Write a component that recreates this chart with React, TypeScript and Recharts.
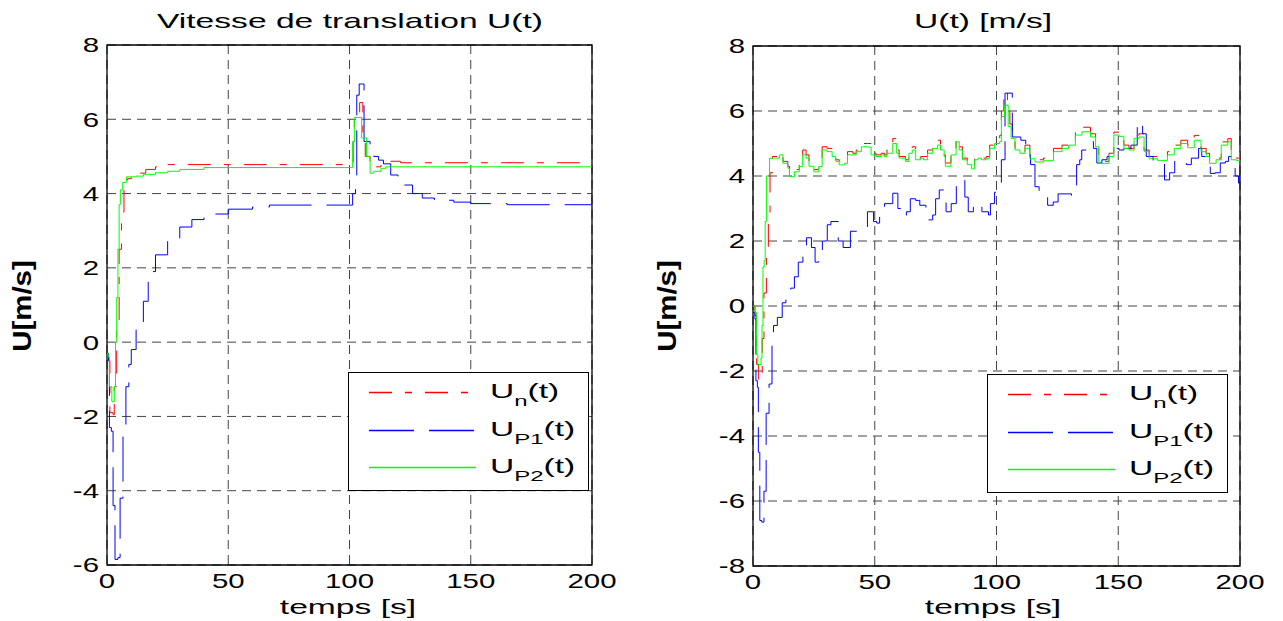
import { LineChart, Line, XAxis, YAxis, CartesianGrid, Legend, ReferenceArea } from 'recharts';

const FONT = '"Liberation Sans", Arial, Helvetica, sans-serif';

const timeTicks = [0, 50, 100, 150, 200];
const leftTicks = [-6, -4, -2, 0, 2, 4, 6, 8];
const rightTicks = [-8, -6, -4, -2, 0, 2, 4, 6, 8];

// Vitesse de translation : U_n(t)
const tLeftN = [0, 0.5, 1.2, 2.5, 3, 4, 5, 6, 7, 8.5, 10, 13, 16, 20, 25, 100.5, 101.5, 102, 103.5, 104.2, 105.5, 106.5, 108.5, 111, 113, 117, 121, 200];
const uLeftN = [-0.3, -0.5, -1.9, -1.95, -1.2, 0.5, 2.5, 3.5, 4.2, 4.4, 4.5, 4.55, 4.65, 4.72, 4.78, 4.78, 5.4, 6.2, 6.2, 6.45, 5.5, 5.0, 4.7, 4.72, 4.8, 4.87, 4.83, 4.83];

// U_P1(t)
const tLeftP1 = [0, 0.6, 1, 1.8, 2.5, 3.3, 4.5, 5.4, 6.6, 7.8, 9, 10, 12, 15, 17, 20, 25, 30, 35, 40, 50, 60, 67, 100.5, 101.3, 102.5, 103, 104, 105.5, 106, 108.5, 110, 112, 114, 117, 120, 126, 130, 135, 143, 150, 165, 200];
const uLeftP1 = [-0.3, -0.5, -2.3, -2.4, -4.4, -5.85, -5.8, -4.2, -2.5, -1.2, -0.6, -0.2, 0.5, 1.1, 1.9, 2.35, 2.75, 3.1, 3.3, 3.45, 3.58, 3.64, 3.69, 3.69, 4.0, 4.35, 6.65, 6.95, 6.95, 5.4, 5.05, 5.0, 4.9, 4.8, 4.5, 4.23, 4.0, 3.88, 3.82, 3.77, 3.73, 3.7, 3.7];

// U_P2(t)
const tLeftP2 = [0, 0.5, 1, 2, 3, 3.5, 4, 4.5, 5, 5.5, 6.5, 8, 12, 15, 20, 25, 30, 40, 100.5, 101.3, 102, 104.5, 105, 107, 108.5, 110, 113, 115, 200];
const uLeftP2 = [-0.3, -0.4, -1.2, -1.6, -1.2, 0, 1.2, 2.5, 3.7, 4.1, 4.3, 4.45, 4.47, 4.52, 4.56, 4.6, 4.65, 4.7, 4.7, 5.4, 6.05, 6.05, 5.5, 5.0, 4.55, 4.6, 4.68, 4.72, 4.72];

// U(t) [m/s] : U_n(t)
const tRightN = [0, 0.8, 1.5, 2.2, 3.3, 3.8, 4.5, 5.5, 6.3, 7, 8, 10.9, 12.3, 14.3, 15, 17, 19, 20.4, 21.8, 23, 25, 27, 28.4, 30.4, 32.5, 34, 35.4, 37.5, 38.8, 41, 42.4, 44.5, 47, 48.5, 50.5, 52.6, 54, 55, 57.4, 59, 60, 62.6, 64, 65.4, 66.8, 68.9, 70, 71.7, 73.8, 75.8, 77, 78.5, 79, 81.3, 83.4, 84.7, 86, 88, 89.7, 91, 92.4, 93.8, 95.8, 97.2, 99.2, 101.3, 102, 103, 104.5, 105.5, 106.5, 107.6, 109.6, 111.7, 113.7, 115.8, 119.3, 123.4, 126.9, 129.6, 132.4, 135.1, 138.6, 140.7, 142, 144, 146.2, 148.2, 150.3, 152.3, 154.4, 156.5, 158.5, 160.6, 162.7, 166.1, 168.9, 170.2, 173, 175.7, 178.5, 181.2, 184, 186.1, 187.5, 190.2, 192.3, 195, 196.4, 198.5, 200];
const uRightN = [0.0, -0.3, -1.8, -2.3, -2.1, -1.0, 0.4, 1.6, 2.6, 4.1, 4.6, 4.7, 4.45, 4.3, 4.05, 4.2, 4.35, 4.8, 4.65, 4.35, 4.2, 4.35, 4.9, 4.85, 4.65, 4.5, 4.4, 4.45, 4.75, 4.7, 4.8, 5.0, 5.0, 4.7, 4.65, 4.7, 4.65, 4.8, 5.15, 4.8, 4.6, 4.5, 4.8, 4.9, 4.55, 4.6, 4.6, 4.8, 4.95, 5.1, 4.9, 4.65, 4.4, 4.75, 5.15, 4.9, 4.55, 4.4, 4.3, 4.55, 4.6, 4.55, 4.6, 4.95, 5.15, 5.25, 6.0, 6.6, 6.3, 5.6, 5.2, 4.85, 4.75, 4.95, 4.6, 4.5, 4.55, 4.85, 4.95, 5.05, 5.4, 5.5, 5.3, 5.0, 4.45, 4.45, 4.7, 5.35, 5.3, 4.95, 4.85, 5.25, 5.3, 4.8, 4.6, 4.55, 4.55, 4.75, 4.95, 5.1, 4.95, 5.25, 4.85, 4.7, 4.45, 4.55, 5.05, 5.15, 4.6, 4.55, 4.85];

// U_P1(t)
const tRightP1 = [0, 0.8, 1.2, 1.8, 2.2, 2.8, 3.6, 4.5, 5.4, 6.6, 7.8, 8.4, 10, 12, 13.5, 15.5, 17, 18.6, 20.5, 22, 24, 25.5, 27, 28.5, 30.5, 32, 35, 37, 40, 44, 47, 49.5, 50.8, 52, 54, 57.4, 59.5, 61, 63, 64.6, 66.8, 68.5, 71, 73.8, 75, 76.5, 78.5, 79.3, 81.4, 83.5, 85.5, 87, 88.4, 90.5, 92.6, 94, 96.7, 97.5, 99.2, 101.3, 102, 103.5, 106, 106.5, 110, 112, 114, 115.8, 117.5, 121, 123.3, 125.3, 128.8, 130.8, 131.5, 132.9, 134.2, 135, 137.7, 139.8, 141.2, 143.3, 145.4, 148.2, 150.3, 152.3, 155.2, 157.8, 160, 161.5, 164.3, 167.7, 169, 171.1, 173.2, 176, 178, 180, 183, 184.3, 187.8, 189.8, 191.9, 194, 195.3, 198, 199.4, 200];
const uRightP1 = [-0.2, -0.4, -2.3, -2.5, -4.5, -6.6, -6.65, -5.7, -3.3, -2.4, -1.1, -0.6, -0.35, 0.1, 0.4, 0.55, 0.9, 1.35, 1.78, 2.1, 1.8, 1.35, 1.72, 2.0, 2.5, 2.6, 2.0, 1.8, 2.3, 2.4, 2.9, 2.6, 2.55, 2.9, 3.15, 3.47, 3.0, 2.75, 2.9, 3.3, 3.25, 3.1, 2.65, 2.8, 3.3, 3.57, 3.4, 2.9, 3.15, 3.88, 3.88, 3.35, 2.9, 3.15, 3.15, 2.9, 2.8, 3.15, 3.5, 3.55, 4.5, 6.55, 6.55, 5.2, 5.1, 4.9, 4.35, 3.67, 3.5, 3.1, 3.2, 3.45, 3.45, 3.4, 3.65, 4.35, 4.5, 4.8, 5.06, 4.85, 4.4, 4.5, 4.6, 4.85, 4.8, 4.85, 4.95, 5.67, 5.3, 4.6, 4.4, 4.4, 3.88, 4.1, 4.48, 4.4, 4.35, 4.55, 4.85, 4.6, 4.08, 4.1, 4.4, 4.45, 4.6, 4.0, 3.78, 4.1];

// U_P2(t)
const tRightP2 = [0, 0.8, 1.5, 2, 3.3, 3.7, 4.1, 4.6, 5, 5.5, 6.3, 6.8, 8.3, 10.9, 12.3, 14.3, 15, 17, 19, 20.4, 21.8, 23, 25, 27, 28.4, 30.4, 32.5, 34, 35.4, 37.5, 38.8, 41, 42.4, 44.5, 47, 48.5, 50.5, 52.6, 54, 55, 57.4, 59, 60, 62.6, 64, 65.4, 66.8, 68.9, 70, 71.7, 73.8, 75.8, 77, 78.5, 79, 81.3, 83.4, 84.7, 86, 88, 89.7, 91, 92.4, 93.8, 95.8, 97.2, 99.2, 101.3, 102, 103.3, 104.8, 106, 107.6, 109.6, 111.7, 113.7, 115.8, 119.3, 123.4, 126.9, 129.6, 132.4, 135.1, 138.6, 140.7, 142, 144, 146.2, 148.2, 150.3, 152.3, 154.4, 156.5, 158.5, 160.6, 162.7, 166.1, 168.9, 170.2, 173, 175.7, 178.5, 181.2, 184, 186.1, 187.5, 190.2, 192.3, 195, 196.4, 198.5, 200];
const uRightP2 = [0.0, -0.2, -1.5, -1.8, -1.6, -0.6, 1.2, 1.4, 2.6, 4.0, 4.03, 4.55, 4.55, 4.65, 4.39, 4.24, 3.98, 4.13, 4.29, 4.65, 4.55, 4.3, 4.13, 4.29, 4.8, 4.75, 4.6, 4.45, 4.34, 4.39, 4.65, 4.65, 4.75, 4.9, 4.89, 4.65, 4.6, 4.65, 4.6, 4.7, 5.0, 4.7, 4.55, 4.45, 4.7, 4.8, 4.5, 4.55, 4.5, 4.7, 4.85, 4.95, 4.8, 4.6, 4.3, 4.65, 5.05, 4.8, 4.5, 4.35, 4.22, 4.5, 4.55, 4.5, 4.53, 4.85, 5.0, 5.06, 5.83, 6.18, 5.52, 5.16, 4.8, 4.7, 4.85, 4.53, 4.43, 4.47, 4.75, 4.85, 4.95, 5.26, 5.36, 5.2, 4.9, 4.39, 4.39, 4.6, 5.26, 5.22, 4.85, 4.8, 5.16, 5.2, 4.75, 4.53, 4.48, 4.48, 4.65, 4.85, 5.0, 4.87, 5.1, 4.75, 4.6, 4.39, 4.5, 4.95, 5.05, 4.5, 4.48, 4.75];

const pts = (t: number[], u: number[]) => t.map((x, i) => ({ t: x, u: u[i] }));

// MATLAB-like line styles: '-.' red, '--' blue, '-' green
const SERIES_ORDER = ['n', 'P1', 'P2'];
const STYLES: Record<string, { color: string; dash?: string }> = {
  n: { color: '#ff0000', dash: '23 13 7 13' },
  P1: { color: '#0000ff', dash: '45 15' },
  P2: { color: '#00ff00' },
};

const Y_AXIS_W = 60;
const X_AXIS_H = 40;

const XTick = ({ x, y, payload }: any) => (
  <text transform={`translate(${x},${y}) scale(1.4,1)`} textAnchor="middle" dominantBaseline="central"
    fontFamily={FONT} fontSize={21} fill="#000">{payload.value}</text>
);

const YTick = ({ x, y, payload }: any) => (
  <text transform={`translate(${x},${y}) scale(1.4,1)`} textAnchor="end" dominantBaseline="central"
    fontFamily={FONT} fontSize={21} fill="#000">{payload.value}</text>
);

function LegendBox({ payload }: any) {
  const entries = [...(payload || [])].sort(
    (a: any, b: any) => SERIES_ORDER.indexOf(a.value) - SERIES_ORDER.indexOf(b.value));
  return (
    <svg width={241} height={119} style={{ display: 'block' }}>
      <rect x={0.5} y={0.5} width={240} height={118} fill="#fff" stroke="#000" />
      {entries.map((entry: any, i: number) => {
        const st = STYLES[entry.value];
        const cy = Math.round(20 + i * 37.5) + 0.5;
        return (
          <g key={entry.value}>
            <line x1={21} x2={128} y1={cy} y2={cy} stroke={st.color} strokeWidth={1.3} strokeDasharray={st.dash} />
            <text transform={`translate(142,${cy + 5}) scale(1.6,1)`} fontFamily={FONT} fontSize={21} fill="#000">
              U<tspan fontSize={15} dy={8}>{entry.value}</tspan><tspan dy={-8}>(t)</tspan>
            </text>
          </g>
        );
      })}
    </svg>
  );
}

interface PanelProps {
  width: number;
  plot: { top: number; right: number; bottom: number; left: number };
  yTicks: number[];
  series: { key: string; data: { t: number; u: number }[] }[];
  legendPos: { left: number; top: number };
}

function Panel({ width, plot, yTicks, series, legendPos }: PanelProps) {
  const yMin = yTicks[0];
  const yMax = yTicks[yTicks.length - 1];
  const margin = { top: plot.top, right: plot.right, bottom: plot.bottom - X_AXIS_H, left: plot.left - Y_AXIS_W };
  return (
    <LineChart width={width} height={621} margin={margin}>
      <CartesianGrid stroke="#444" strokeDasharray="9 6" />
      <XAxis type="number" dataKey="t" domain={[0, 200]} ticks={timeTicks} allowDataOverflow interval={0}
        height={X_AXIS_H} tickSize={0} tickMargin={16} axisLine={false} tickLine={false} tick={<XTick />} />
      <YAxis type="number" dataKey="u" domain={[yMin, yMax]} ticks={yTicks} allowDataOverflow interval={0}
        width={Y_AXIS_W} tickSize={0} tickMargin={8} axisLine={false} tickLine={false} tick={<YTick />} />
      {series.map((s) => (
        <Line key={s.key} name={s.key} data={s.data} dataKey="u" type="stepAfter"
          stroke={STYLES[s.key].color} strokeDasharray={STYLES[s.key].dash} strokeWidth={1}
          dot={false} activeDot={false} isAnimationActive={false} />
      ))}
      <ReferenceArea x1={0} x2={200} y1={yMin} y2={yMax} fill="none" stroke="#000" strokeWidth={1.3} />
      <Legend layout="vertical" align="center" verticalAlign="middle" content={<LegendBox />}
        wrapperStyle={{ left: legendPos.left, top: legendPos.top, width: 241, height: 119 }} />
    </LineChart>
  );
}

const textStyle = (left: number, top: number, extra = ''): React.CSSProperties => ({
  position: 'absolute', left, top, whiteSpace: 'nowrap', fontFamily: FONT, fontSize: 21, color: '#000',
  transform: `translate(-50%,-50%) ${extra}`, lineHeight: 1,
});

export default function App() {
  return (
    <div style={{ position: 'absolute', left: 0, top: 0, width: 1283, height: 621, background: '#fff', overflow: 'hidden' }}>
      <div style={{ position: 'absolute', left: 0, top: 0 }}>
        <Panel width={640} plot={{ top: 45, right: 48, bottom: 56, left: 107 }} yTicks={leftTicks}
          legendPos={{ left: 348, top: 372 }}
          series={[
            { key: 'n', data: pts(tLeftN, uLeftN) },
            { key: 'P1', data: pts(tLeftP1, uLeftP1) },
            { key: 'P2', data: pts(tLeftP2, uLeftP2) },
          ]} />
      </div>
      <div style={{ position: 'absolute', left: 640, top: 0 }}>
        <Panel width={643} plot={{ top: 46, right: 43, bottom: 55, left: 113 }} yTicks={rightTicks}
          legendPos={{ left: 347, top: 374 }}
          series={[
            { key: 'n', data: pts(tRightN, uRightN) },
            { key: 'P1', data: pts(tRightP1, uRightP1) },
            { key: 'P2', data: pts(tRightP2, uRightP2) },
          ]} />
      </div>

      <div style={textStyle(350, 20, 'scaleX(1.6)')}>Vitesse de translation U(t)</div>
      <div style={textStyle(983, 20, 'scaleX(1.6)')}>U(t) [m/s]</div>
      <div style={textStyle(348, 606, 'scaleX(1.6)')}>temps [s]</div>
      <div style={textStyle(993, 606, 'scaleX(1.6)')}>temps [s]</div>
      <div style={{ ...textStyle(22, 306, 'rotate(-90deg) scale(1.4,1.2)'), fontWeight: 'bold' }}>U[m/s]</div>
      <div style={{ ...textStyle(667, 306, 'rotate(-90deg) scale(1.4,1.2)'), fontWeight: 'bold' }}>U[m/s]</div>
    </div>
  );
}
